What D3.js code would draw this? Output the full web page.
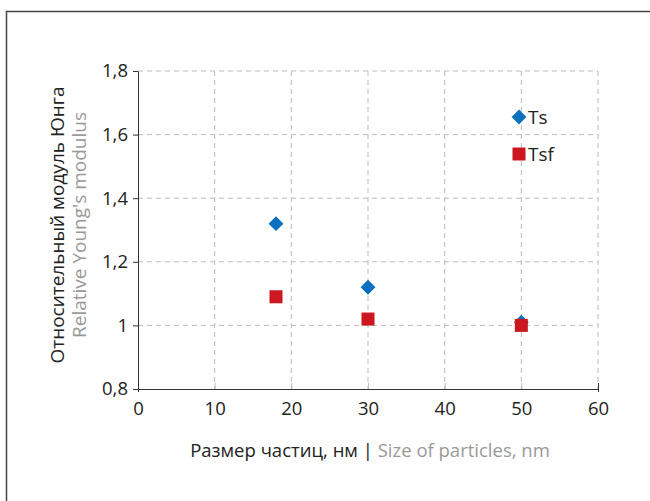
<!DOCTYPE html>
<html>
<head>
<meta charset="utf-8">
<script src="https://cdn.jsdelivr.net/npm/d3@7"></script>
<style>
  body { margin: 0; background: #fff; }
  svg text { font-family: "Open Sans", "Noto Sans", sans-serif; }
</style>
</head>
<body>
<svg id="chart" width="650" height="501"></svg>
<script>
// data
var ts_x = [18, 30, 50];
var ts_y = [1.32, 1.12, 1.01];
var tsf_x = [18, 30, 50];
var tsf_y = [1.09, 1.02, 1.0];
var x_ticks = [0, 10, 20, 30, 40, 50, 60];
var y_ticks = [0.8, 1, 1.2, 1.4, 1.6, 1.8];
var series_names = ["Ts", "Tsf"];

var svg = d3.select("#chart");

// outer frame
svg.append("rect")
    .attr("x", 6.5).attr("y", 11.5)
    .attr("width", 700).attr("height", 600)
    .attr("fill", "none")
    .attr("stroke", "#444")
    .attr("stroke-width", 1.5);

var x = d3.scaleLinear().domain([0, 60]).range([138, 598]);
var y = d3.scaleLinear().domain([0.8, 1.8]).range([389, 71]);

var fmt = function(d){ return d === 1 ? "1" : d3.format(".1f")(d).replace(".", ","); };

// grid
var grid = svg.append("g");
grid.selectAll(".hg")
    .data(y_ticks.filter(function(d){ return d > 0.8; }))
    .enter().append("line")
    .attr("x1", x(0)).attr("x2", x(60))
    .attr("y1", function(d){ return y(d); })
    .attr("y2", function(d){ return y(d); })
    .attr("stroke", "#bbb")
    .attr("stroke-dasharray", "5,4");
grid.selectAll(".vg")
    .data(x_ticks.filter(function(d){ return d > 0; }))
    .enter().append("line")
    .attr("x1", function(d){ return x(d); })
    .attr("x2", function(d){ return x(d); })
    .attr("y1", y(1.8)).attr("y2", y(0.8))
    .attr("stroke", "#bbb")
    .attr("stroke-dasharray", "5,4");

// axes
var yAxis = svg.append("g")
    .attr("transform", "translate(" + x(0) + ",0)")
    .call(d3.axisLeft(y).tickValues(y_ticks).tickFormat(fmt).tickSize(5).tickSizeOuter(0));
yAxis.select(".domain").attr("stroke", "#333");
yAxis.selectAll(".tick line").attr("stroke", "#333");
yAxis.selectAll(".tick text")
    .attr("font-size", 18.5).attr("fill", "#222")
    .attr("x", -10);

var xAxis = svg.append("g")
    .attr("transform", "translate(0," + y(0.8) + ")")
    .call(d3.axisBottom(x).tickValues(x_ticks).tickSize(-6).tickSizeOuter(0));
xAxis.select(".domain").attr("stroke", "#333");
xAxis.selectAll(".tick line").attr("stroke", "#bbb");
xAxis.selectAll(".tick line").filter(function(d){ return d === 0 || d === 60; })
    .attr("stroke", "#333").attr("y1", 3);
xAxis.selectAll(".tick text")
    .attr("font-size", 18.5).attr("fill", "#222")
    .attr("y", 13);

// axis titles
var xt = svg.append("text")
    .attr("x", 370).attr("y", 457)
    .attr("text-anchor", "middle")
    .attr("font-size", 18.5);
xt.append("tspan").attr("fill", "#222").text("Размер частиц, нм | ");
xt.append("tspan").attr("fill", "#999").text("Size of particles, nm");

svg.append("text")
    .attr("transform", "translate(64,225) rotate(-90)")
    .attr("text-anchor", "middle")
    .attr("font-size", 19).attr("fill", "#222")
    .text("Относительный модуль Юнга");
svg.append("text")
    .attr("transform", "translate(86,225) rotate(-90)")
    .attr("text-anchor", "middle")
    .attr("font-size", 19).attr("fill", "#999")
    .text("Relative Young's modulus");

// points
var blue = "#0b70be", red = "#cc1620";
var diamond = d3.symbol().type(d3.symbolSquare).size(110);

svg.append("g").selectAll("path")
    .data(d3.zip(ts_x, ts_y))
    .enter().append("path")
    .attr("d", diamond)
    .attr("transform", function(d){ return "translate(" + x(d[0]) + "," + y(d[1]) + ") rotate(45)"; })
    .attr("fill", blue);

svg.append("g").selectAll("rect")
    .data(d3.zip(tsf_x, tsf_y))
    .enter().append("rect")
    .attr("x", function(d){ return x(d[0]) - 6.5; })
    .attr("y", function(d){ return y(d[1]) - 6.5; })
    .attr("width", 13).attr("height", 13)
    .attr("fill", red);

// legend
var lg = svg.append("g").attr("transform", "translate(519,117)");
lg.append("path").attr("d", diamond).attr("transform", "rotate(45)").attr("fill", blue);
lg.append("text").attr("x", 9).attr("y", 7).attr("font-size", 19).attr("fill", "#222").text(series_names[0]);
lg.append("rect").attr("x", -6.5).attr("y", 37 - 6.5).attr("width", 13).attr("height", 13).attr("fill", red);
lg.append("text").attr("x", 9).attr("y", 44).attr("font-size", 19).attr("fill", "#222").text(series_names[1]);
</script>
</body>
</html>
